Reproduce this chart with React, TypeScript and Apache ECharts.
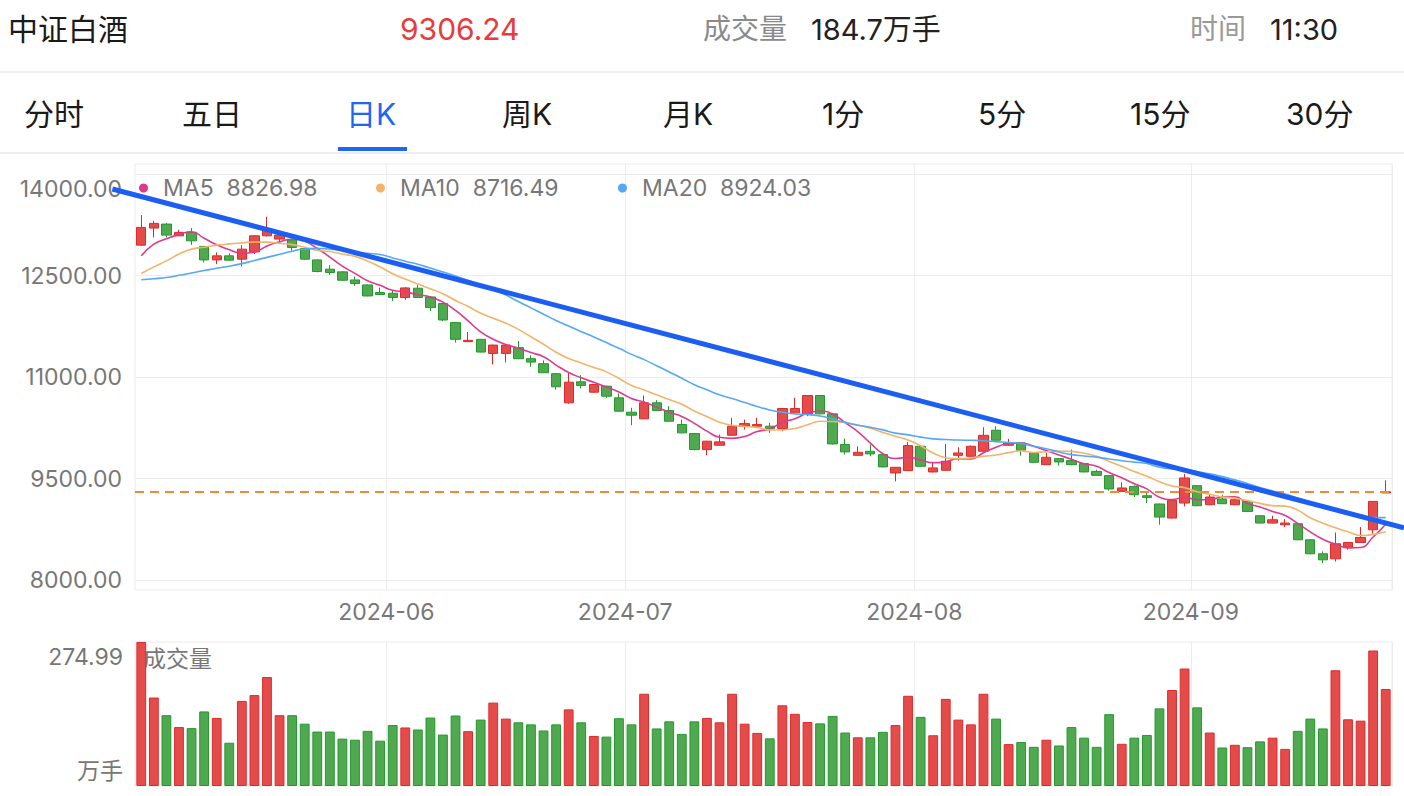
import { useEffect, useRef } from 'react';
import * as echarts from 'echarts';

const FONT = 'Inter, "Noto Sans CJK SC", "Noto Sans", sans-serif';

const dates = [
  '2024-05-06','2024-05-07','2024-05-08','2024-05-09','2024-05-10','2024-05-13','2024-05-14','2024-05-15','2024-05-16','2024-05-17',
  '2024-05-20','2024-05-21','2024-05-22','2024-05-23','2024-05-24','2024-05-27','2024-05-28','2024-05-29','2024-05-30','2024-05-31',
  '2024-06-03','2024-06-04','2024-06-05','2024-06-06','2024-06-07','2024-06-11','2024-06-12','2024-06-13','2024-06-14','2024-06-17',
  '2024-06-18','2024-06-19','2024-06-20','2024-06-21','2024-06-24','2024-06-25','2024-06-26','2024-06-27','2024-06-28',
  '2024-07-01','2024-07-02','2024-07-03','2024-07-04','2024-07-05','2024-07-08','2024-07-09','2024-07-10','2024-07-11','2024-07-12',
  '2024-07-15','2024-07-16','2024-07-17','2024-07-18','2024-07-19','2024-07-22','2024-07-23','2024-07-24','2024-07-25','2024-07-26',
  '2024-07-29','2024-07-30','2024-07-31',
  '2024-08-01','2024-08-02','2024-08-05','2024-08-06','2024-08-07','2024-08-08','2024-08-09','2024-08-12','2024-08-13','2024-08-14',
  '2024-08-15','2024-08-16','2024-08-19','2024-08-20','2024-08-21','2024-08-22','2024-08-23','2024-08-26','2024-08-27','2024-08-28',
  '2024-08-29','2024-08-30',
  '2024-09-02','2024-09-03','2024-09-04','2024-09-05','2024-09-06','2024-09-09','2024-09-10','2024-09-11','2024-09-12','2024-09-13',
  '2024-09-18','2024-09-19','2024-09-20','2024-09-23','2024-09-24','2024-09-25'
];

const opens = [12951,13203,13262,13089,13139,12932,12733,12793,12744,12852,
  13089,13040,13030,12902,12733,12596,12556,12437,12363,12251,
  12240,12177,12314,12185,12088,11806,11525,11559,11351,11351,
  11436,11273,11199,11051,10621,10932,10778,10867,10695,10482,
  10384,10621,10507,10300,10167,9930,9994,10141,10275,10275,
  10275,10240,10473,10458,10729,10458,10004,9845,9905,9856,
  9585,9619,9979,9599,9624,9845,9831,9905,10216,9994,
  10029,9880,9707,9796,9767,9723,9608,9545,9312,9386,
  9248,9126,8918,9140,9397,9115,9200,9115,9164,8952,
  8844,8819,8834,8597,8390,8316,8489,8557,8745,9290];

const closes = [13213,13272,13099,13139,13015,12733,12793,12729,12892,13089,
  13188,13099,12917,12744,12561,12547,12433,12384,12200,12221,
  12177,12319,12177,12028,11845,11559,11544,11371,11474,11474,
  11273,11223,11066,10858,10926,10878,10892,10719,10497,10438,
  10621,10507,10349,10177,9930,10054,10044,10275,10314,10300,
  10240,10537,10537,10729,10458,10014,9896,9890,9866,9674,
  9668,9989,9683,9659,9757,9880,9979,10141,10068,10029,
  9920,9742,9816,9747,9707,9600,9549,9348,9363,9263,
  9223,8933,9179,9511,9100,9229,9130,9189,9016,8844,
  8893,8844,8597,8390,8301,8538,8557,8631,9164,9306.24];

const lows = [12940,13065,13065,13085,12955,12695,12670,12720,12636,12818,
  13080,12966,12867,12730,12550,12511,12425,12348,12195,12215,
  12126,12141,12170,11978,11830,11510,11520,11365,11189,11218,
  11265,11155,11060,10818,10607,10833,10770,10695,10490,10290,
  10378,10500,10342,10170,9920,9845,9988,10135,10226,10270,
  10177,10201,10468,10423,10450,10005,9856,9840,9831,9668,
  9460,9612,9676,9594,9618,9767,9825,9898,10062,9988,
  9841,9735,9700,9692,9700,9594,9543,9323,9306,9229,
  9140,8819,8910,9090,9094,9109,9124,9109,9010,8838,
  8838,8785,8591,8384,8252,8275,8449,8551,8686,9285];

const highs = [13395,13311,13277,13178,13203,12940,12843,12828,12951,13100,
  13370,13110,13050,12910,12740,12655,12565,12487,12370,12324,
  12274,12330,12359,12200,12095,11815,11667,11565,11480,11480,
  11534,11322,11248,11058,11066,11030,10900,10875,10759,10547,
  10729,10660,10571,10374,10175,10060,10152,10399,10374,10399,
  10325,10545,10695,10735,10735,10465,10093,9979,10004,9862,
  9674,10044,9985,9748,10014,9964,9990,10260,10275,10088,
  10035,9886,9880,9802,9930,9730,9633,9551,9446,9401,
  9288,9132,9190,9570,9404,9263,9263,9200,9170,8958,
  8952,8903,8840,8603,8424,8705,8565,8785,9170,9475];

const volumes = [274.99,169.0,135.2,112.5,110.5,142.4,130.0,82.6,162.5,173.6,
  208.0,135.2,135.2,119.0,104.0,104.0,90.4,88.4,105.3,86.5,
  116.4,111.8,107.9,130.7,98.2,134.6,104.7,126.8,159.3,128.7,
  121.6,117.7,106.0,117.7,146.3,121.6,95.6,94.3,129.4,117.7,
  176.2,109.9,123.5,99.5,123.5,130.0,121.6,176.2,119.0,101.4,
  91.0,154.1,137.8,122.2,119.6,133.9,102.1,93.0,93.0,103.4,
  116.4,172.3,132.0,96.9,166.4,126.8,117.7,176.2,128.7,80.0,
  83.9,74.8,88.4,77.4,112.5,92.3,74.8,137.2,80.6,92.3,
  97.5,148.2,183.3,224.3,150.2,102.1,73.5,78.7,74.1,85.2,
  92.3,70.9,105.3,128.7,109.9,221.0,127.4,124.8,258.7,185.3];

const ma5 = [12793,12966,13045,13110,13148,13052,12956,12882,12832,12847,
  12938,12999,13037,13007,12902,12774,12640,12534,12425,12357,
  12283,12260,12219,12184,12109,11986,11831,11669,11559,11484,
  11427,11363,11302,11179,11069,10990,10924,10855,10782,10685,
  10633,10556,10482,10418,10317,10203,10111,10096,10123,10197,
  10235,10333,10386,10469,10500,10455,10327,10197,10025,9868,
  9799,9817,9776,9735,9751,9794,9792,9883,9965,10019,
  10027,9980,9915,9851,9786,9722,9684,9590,9513,9425,
  9349,9226,9192,9222,9189,9190,9230,9232,9133,9082,
  9014,8957,8839,8714,8605,8534,8477,8483,8638,8826.98];

const ma10 = [12532,12630,12719,12820,12892,12920,12951,12970,12985,12997,
  12995,12978,12959,12920,12875,12856,12820,12785,12716,12629,
  12528,12450,12376,12305,12233,12134,12045,11944,11872,11797,
  11706,11597,11486,11369,11277,11209,11144,11078,10981,10877,
  10812,10740,10669,10600,10501,10418,10334,10289,10271,10257,
  10219,10222,10241,10296,10349,10345,10330,10292,10247,10184,
  10127,10072,9987,9880,9810,9796,9805,9830,9850,9885,
  9911,9886,9899,9908,9903,9875,9832,9753,9682,9606,
  9536,9455,9391,9368,9307,9270,9228,9212,9177,9135,
  9102,9094,9035,8923,8843,8774,8717,8661,8676,8716.49];

const ma20 = [12440,12455,12473,12505,12540,12575,12610,12640,12678,12725,
  12770,12815,12862,12895,12903,12890,12870,12850,12830,12813,
  12762,12714,12668,12612,12554,12495,12433,12365,12294,12213,
  12117,12024,11931,11837,11755,11672,11594,11511,11426,11337,
  11259,11169,11077,10985,10889,10814,10739,10684,10626,10567,
  10515,10481,10455,10448,10425,10382,10332,10290,10259,10221,
  10173,10147,10114,10088,10079,10071,10067,10061,10048,10035,
  10019,9979,9943,9894,9856,9836,9818,9791,9766,9745,
  9723,9670,9645,9638,9605,9572,9530,9482,9430,9370,
  9319,9274,9213,9145,9075,9022,8972,8937,8927,8924.03];

const priceTicks = [8000, 9500, 11000, 12500, 14000];
const volumeTicks = [0, 274.99];
const lastPrice = 9306.24;
// drawn trend line, in (candle index, price) space
const trendLine = [[-2.3, 13780], [100.45, 8775]];

const maNames = ['MA5', 'MA10', 'MA20'];
const maColors = ['#dd3a8e', '#f2b468', '#55a8f6'];
const maLegendLeft = [134, 371, 613];

const tabs = ['分时', '五日', '日K', '周K', '月K', '1分', '5分', '15分', '30分'];
const tabX = [24, 182, 346, 502, 663, 822, 978, 1130, 1286];
const activeTab = 2;

const UP_FILL = '#e44c4c';
const UP_BORDER = '#e02a2a';
const DOWN_FILL = '#50a850';
const DOWN_BORDER = '#219a2b';
const GRID_LINE = '#ececec';
const LABEL = '#777777';

// layout
const W = 1404;
const PLOT_LEFT = 135;
const PLOT_RIGHT = 12;
const PRICE_TOP = 164;
const PRICE_H = 426;
const PRICE_MIN = 7855;
const PRICE_MAX = 14150;
const OVERLAY_LEFT = 100;

const monthStart = dates.map((d, i) => i > 0 && d.slice(0, 7) !== dates[i - 1].slice(0, 7));
const isMonthStart = (i: number) => monthStart[i];

export default function App() {
  const ref = useRef<HTMLDivElement>(null);
  useEffect(() => {
    const chart = echarts.init(ref.current!, null, { renderer: 'svg' });
    const candleData = dates.map((_, i) => [opens[i], closes[i], lows[i], highs[i]]);
    const volumeData = volumes.map((v, i) => {
      const up = closes[i] >= opens[i];
      return {
        value: v,
        itemStyle: { color: up ? UP_FILL : DOWN_FILL, borderColor: up ? UP_BORDER : DOWN_BORDER, borderWidth: 1 },
      };
    });
    const maData = [ma5, ma10, ma20];

    // overlay grid spanning wider than the plot, with an x scale identical to the category bands
    const band = (W - PLOT_LEFT - PLOT_RIGHT) / dates.length;
    const ovMin = -0.5 - (PLOT_LEFT - OVERLAY_LEFT) / band;
    const ovMax = -0.5 + (W - PLOT_LEFT) / band;

    const header: any[] = [
      { type: 'text', left: 8, top: 14, style: { text: '中证白酒', fontSize: 30, fill: '#1a1a1a', fontFamily: FONT } },
      { type: 'text', left: 400, top: 14, style: { text: lastPrice.toFixed(2), fontSize: 30, fill: '#e63c3c', fontFamily: FONT } },
      { type: 'text', left: 703, top: 15, style: { text: '成交量', fontSize: 28, fill: '#8a8a8a', fontFamily: FONT } },
      { type: 'text', left: 811, top: 15, style: { text: '184.7万手', fontSize: 29, fill: '#222', fontFamily: FONT } },
      { type: 'text', left: 1190, top: 15, style: { text: '时间', fontSize: 28, fill: '#999', fontFamily: FONT } },
      { type: 'text', left: 1270, top: 15, style: { text: '11:30', fontSize: 29, fill: '#222', fontFamily: FONT } },
      { type: 'rect', left: 0, top: 71, shape: { width: W, height: 2 }, style: { fill: '#f0f0f0' } },
      { type: 'rect', left: 0, top: 152, shape: { width: W, height: 2 }, style: { fill: '#f0f0f0' } },
      { type: 'rect', left: 338, top: 147, shape: { width: 69, height: 4 }, style: { fill: '#1f66f2' } },
      { type: 'text', left: 143, top: 647, style: { text: '成交量', fontSize: 23, fill: '#777', fontFamily: FONT } },
    ];
    tabs.forEach((t, i) => {
      header.push({
        type: 'text', left: tabX[i], top: 99,
        style: { text: t, fontSize: 30, fill: i === activeTab ? '#1f66f2' : '#1a1a1a', fontFamily: FONT },
      });
    });

    chart.setOption({
      animation: false,
      textStyle: { fontFamily: FONT },
      graphic: header,
      legend: maNames.map((n, i) => ({
        data: [n], left: maLegendLeft[i], top: 170, icon: 'circle', itemWidth: 29, itemHeight: 9,
        selectedMode: false,
        formatter: (name: string) => `${name}  ${maData[i][maData[i].length - 1].toFixed(2)}`,
        textStyle: { color: LABEL, fontSize: 23, fontFamily: FONT, lineHeight: 26 },
      })),
      grid: [
        { left: PLOT_LEFT, right: PLOT_RIGHT, top: PRICE_TOP, height: PRICE_H, show: true, borderColor: GRID_LINE, borderWidth: 1 },
        { left: PLOT_LEFT, right: PLOT_RIGHT, top: 642, height: 144, show: true, borderColor: GRID_LINE, borderWidth: 1 },
        { left: OVERLAY_LEFT, right: 0, top: PRICE_TOP, height: PRICE_H, show: false },
      ],
      xAxis: [
        {
          type: 'category', gridIndex: 0, data: dates, boundaryGap: true,
          axisLine: { show: false }, axisTick: { show: false },
          axisLabel: {
            interval: (i: number) => isMonthStart(i), formatter: (v: string) => v.slice(0, 7),
            fontSize: 23, color: LABEL, margin: 10, padding: [0, 12.6, 0, 0],
          },
          splitLine: { show: true, interval: (i: number) => isMonthStart(i), lineStyle: { color: GRID_LINE } },
        },
        {
          type: 'category', gridIndex: 1, data: dates, boundaryGap: true,
          axisLine: { show: false }, axisTick: { show: false }, axisLabel: { show: false },
          splitLine: { show: true, interval: (i: number) => isMonthStart(i), lineStyle: { color: GRID_LINE } },
        },
        {
          type: 'value', gridIndex: 2, min: ovMin, max: ovMax,
          axisLine: { show: false }, axisTick: { show: false }, axisLabel: { show: false }, splitLine: { show: false },
        },
      ],
      yAxis: [
        {
          type: 'value', gridIndex: 0, min: PRICE_MIN, max: PRICE_MAX, scale: true,
          axisLine: { show: false }, axisTick: { show: false, customValues: priceTicks },
          axisLabel: {
            customValues: priceTicks, formatter: (v: number) => v.toFixed(2),
            fontSize: 23, color: LABEL, margin: 13, lineHeight: 30, verticalAlignMaxLabel: 'top',
          },
          splitLine: { show: true, lineStyle: { color: GRID_LINE } },
        },
        {
          type: 'value', gridIndex: 1, min: 0, max: 274.99,
          axisLine: { show: false }, axisTick: { show: false, customValues: volumeTicks },
          axisLabel: {
            customValues: volumeTicks, formatter: (v: number) => (v === 0 ? '万手' : v.toFixed(2)),
            fontSize: 23, color: LABEL, margin: 12, lineHeight: 30,
            verticalAlignMinLabel: 'bottom', verticalAlignMaxLabel: 'top',
          },
          splitLine: { show: false },
        },
        {
          type: 'value', gridIndex: 2, min: PRICE_MIN, max: PRICE_MAX,
          axisLine: { show: false }, axisTick: { show: false }, axisLabel: { show: false }, splitLine: { show: false },
        },
      ],
      series: [
        {
          type: 'candlestick', name: 'K', xAxisIndex: 0, yAxisIndex: 0, data: candleData, barWidth: '78%',
          itemStyle: { color: UP_FILL, color0: DOWN_FILL, borderColor: UP_BORDER, borderColor0: DOWN_BORDER, borderWidth: 1 },
          markLine: {
            silent: true, symbol: ['none', 'none'], label: { show: false },
            lineStyle: { color: '#f08a34', type: [9, 6], width: 2 },
            data: [{ yAxis: lastPrice }],
          },
        },
        ...maNames.map((n, i) => ({
          type: 'line', name: n, xAxisIndex: 0, yAxisIndex: 0, data: maData[i], smooth: true,
          showSymbol: false, symbol: 'none',
          itemStyle: { color: maColors[i] }, lineStyle: { color: maColors[i], width: 1.6 },
        })),
        {
          type: 'line', name: 'trend', xAxisIndex: 2, yAxisIndex: 2, data: trendLine, clip: false,
          symbol: 'none', showSymbol: false, z: 100,
          lineStyle: { color: '#1d5ef2', width: 5 },
        },
        {
          type: 'bar', name: '成交量', xAxisIndex: 1, yAxisIndex: 1, data: volumeData, barWidth: '78%',
        },
      ],
    });
    return () => chart.dispose();
  }, []);
  return <div ref={ref} style={{ position: 'fixed', left: 0, top: 0, width: W, height: 796, background: '#fff' }} />;
}
